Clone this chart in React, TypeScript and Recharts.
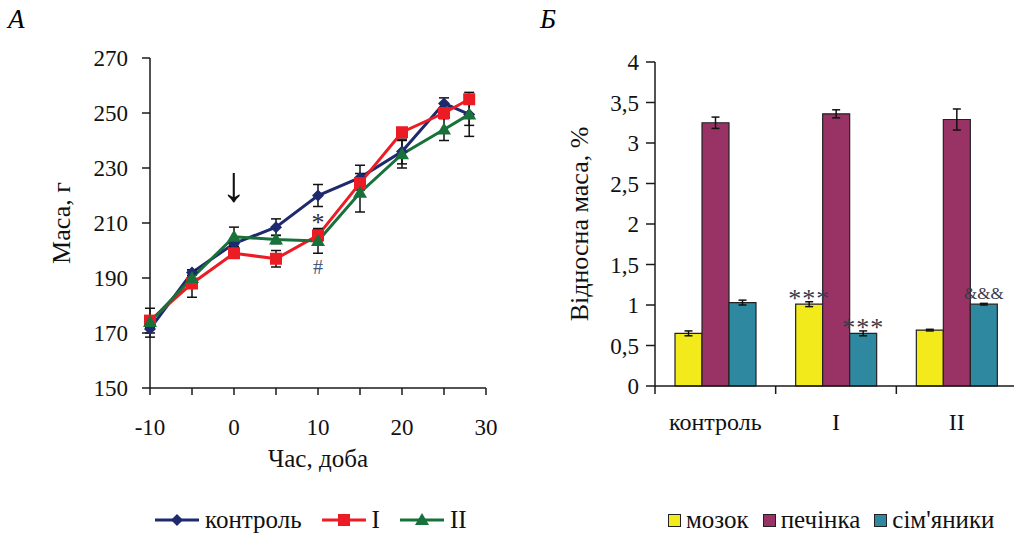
import {
  LineChart, Line, BarChart, Bar, XAxis, YAxis, ErrorBar, Legend, ReferenceDot, LabelList,
} from 'recharts';

const FONT = 'Liberation Serif, Tinos, Times New Roman, DejaVu Serif, serif';
const AXIS = '#1a1a1a';
const TEXT = '#111';

// panel A: body mass over time
const days = [-10, -5, 0, 5, 10, 15, 20, 25, 28];
const controlMass = [171.5, 192, 202.5, 208.5, 220, 226.5, 236, 253.5, 249.5];
const controlErr = [3, 1, 1.5, 3, 4, 4.5, 4.5, 2, 4];
const groupIMass = [174.5, 188, 199, 197, 205.5, 224.5, 243, 250, 255];
const groupIErr = [4.5, 5, 1.5, 3, 2, 2, 1.5, 2, 1];
const groupIIMass = [174, 190, 205, 204, 203.5, 221, 235, 244, 249.5];
const groupIIErr = [2, 2, 3.5, 1.5, 4.5, 7, 5, 4, 8];
const dayTicks = [-10, -5, 0, 5, 10, 15, 20, 25, 30];
const massTicks = [150, 170, 190, 210, 230, 250, 270];

// panel Б: relative organ mass
const groups = ['контроль', 'I', 'II'];
const brain = [0.65, 1.01, 0.69];
const brainErr = [0.03, 0.03, 0.01];
const liver = [3.25, 3.36, 3.29];
const liverErr = [0.07, 0.05, 0.13];
const testes = [1.03, 0.65, 1.01];
const testesErr = [0.03, 0.03, 0.01];
const brainMarks = ['', '***', ''];
const testesMarks = ['', '***', '&&&'];
const shareTicks = [0, 0.5, 1, 1.5, 2, 2.5, 3, 3.5, 4];

const massData = days.map((day, i) => ({
  day,
  control: controlMass[i], controlErr: controlErr[i],
  g1: groupIMass[i], g1Err: groupIErr[i],
  g2: groupIIMass[i], g2Err: groupIIErr[i],
}));

const organData = groups.map((group, i) => ({
  group,
  brain: brain[i], brainErr: brainErr[i], brainMark: brainMarks[i],
  liver: liver[i], liverErr: liverErr[i],
  testes: testes[i], testesErr: testesErr[i], testesMark: testesMarks[i],
}));

const COLORS = {
  control: '#1f2a6e',
  g1: '#ec1c24',
  g2: '#18703a',
  brain: '#f2ea1a',
  liver: '#993366',
  testes: '#2e88a0',
};

const marker = (kind: string, cx: number, cy: number, fill: string, key?: any) => {
  if (kind === 'diamond')
    return <polygon key={key} points={`${cx},${cy - 6} ${cx + 6},${cy} ${cx},${cy + 6} ${cx - 6},${cy}`} fill={fill} />;
  if (kind === 'square')
    return <rect key={key} x={cx - 6} y={cy - 6} width={12} height={12} fill={fill} />;
  return <polygon key={key} points={`${cx},${cy - 7} ${cx + 7},${cy + 5} ${cx - 7},${cy + 5}`} fill={fill} />;
};

const lineSeries = [
  { key: 'control', name: 'контроль', shape: 'diamond' },
  { key: 'g1', name: 'I', shape: 'square' },
  { key: 'g2', name: 'II', shape: 'triangle' },
];

const barSeries = [
  { key: 'brain', name: 'мозок' },
  { key: 'liver', name: 'печінка' },
  { key: 'testes', name: "сім'яники" },
];

const LineLegend = () => (
  <div style={{ display: 'flex', alignItems: 'center', fontSize: 25, color: TEXT, height: 26, fontFamily: FONT }}>
    {lineSeries.map((s) => (
      <div key={s.key} style={{ display: 'flex', alignItems: 'center', marginRight: 20 }}>
        <svg width={44} height={16} style={{ marginRight: 6 }}>
          <line x1={0} y1={8} x2={44} y2={8} stroke={(COLORS as any)[s.key]} strokeWidth={3} />
          {marker(s.shape, 22, 8, (COLORS as any)[s.key])}
        </svg>
        <span>{s.name}</span>
      </div>
    ))}
  </div>
);

const BarLegend = () => (
  <div style={{ display: 'flex', alignItems: 'center', fontSize: 25, color: TEXT, height: 26, fontFamily: FONT }}>
    {barSeries.map((s) => (
      <div key={s.key} style={{ display: 'flex', alignItems: 'center', marginRight: 14 }}>
        <span style={{
          display: 'inline-block', width: 11, height: 11, background: (COLORS as any)[s.key],
          border: '1.5px solid #222', marginRight: 5,
        }} />
        <span>{s.name}</span>
      </div>
    ))}
  </div>
);

const BandTick = (props: any) => {
  const { x, y, payload } = props;
  const half = payload && payload.offset ? payload.offset : 60.3;
  return (
    <g>
      <line x1={x - half} y1={y} x2={x - half} y2={y + 8} stroke={AXIS} strokeWidth={1.5} />
      <text x={x} y={y + 44} textAnchor="middle" fontSize={24} fill={TEXT} fontFamily={FONT}>{payload.value}</text>
    </g>
  );
};

const renderMark = (props: any) => {
  const { x, y, width, value } = props;
  if (!value) return null;
  const amp = String(value).includes('&');
  return (
    <text x={x + width / 2} y={y - (amp ? 5 : -3)} textAnchor="middle" fontSize={amp ? 17 : 26}
      fill="#3a3a48" fontFamily={FONT} letterSpacing={amp ? 0 : 1}>
      {value}
    </text>
  );
};

export default function App() {
  return (
    <div style={{
      position: 'absolute', left: 0, top: 0, width: 1014, height: 533, overflow: 'hidden',
      background: '#fff', fontFamily: FONT,
    }}>
      <div style={{ position: 'absolute', left: 8, top: 6, fontSize: 27, fontStyle: 'italic', lineHeight: 1 }}>А</div>
      <div style={{ position: 'absolute', left: 540, top: 6, fontSize: 27, fontStyle: 'italic', lineHeight: 1 }}>Б</div>

      <div style={{ position: 'absolute', left: 0, top: 0 }}>
        <LineChart width={520} height={533} data={massData} margin={{ top: 58, right: 34, bottom: 0, left: 40 }}
          style={{ fontFamily: FONT }}>
          <XAxis
            dataKey="day" type="number" domain={[-10, 30]} ticks={dayTicks} interval={0}
            tickFormatter={(v: number) => (v % 10 === 0 ? String(v) : '')}
            height={119} tickSize={7} tickMargin={24} stroke={AXIS} strokeWidth={1.5}
            tick={{ fill: TEXT, fontSize: 23, fontFamily: FONT }}
            label={{ value: 'Час, доба', position: 'insideBottom', offset: 40, fill: TEXT, fontSize: 25, fontFamily: FONT }}
          />
          <YAxis
            type="number" domain={[150, 270]} ticks={massTicks} interval={0}
            width={110} tickSize={8} tickMargin={14} stroke={AXIS} strokeWidth={1.5}
            tick={{ fill: TEXT, fontSize: 23, fontFamily: FONT }}
            label={{ value: 'Маса, г', angle: -90, position: 'insideLeft', offset: 21, fill: TEXT, fontSize: 26, fontFamily: FONT, style: { textAnchor: 'middle' } }}
          />
          <Legend verticalAlign="bottom" height={26} wrapperStyle={{ left: 155, width: 360 }} content={() => <LineLegend />} />
          {lineSeries.map((s) => (
            <Line
              key={s.key} dataKey={s.key} name={s.name} type="linear"
              stroke={(COLORS as any)[s.key]} strokeWidth={3} isAnimationActive={false}
              dot={(p: any) => marker(s.shape, p.cx, p.cy, (COLORS as any)[s.key], p.index)}
              activeDot={false}
            >
              <ErrorBar dataKey={`${s.key}Err`} direction="y" width={5} stroke="#111" strokeWidth={1.5} />
            </Line>
          ))}
          <ReferenceDot x={0} y={224.5} r={0} label={{ value: '↓', position: 'center', fontSize: 50, fill: '#111', fontFamily: FONT }} />
          <ReferenceDot x={10} y={210.5} r={0} label={{ value: '*', position: 'center', fontSize: 26, fill: '#2a2a3a', fontFamily: FONT }} />
          <ReferenceDot x={10} y={194} r={0} label={{ value: '#', position: 'center', fontSize: 20, fill: '#4a5578', fontFamily: FONT }} />
        </LineChart>
      </div>

      <div style={{ position: 'absolute', left: 520, top: 0 }}>
        <BarChart width={500} height={533} data={organData} margin={{ top: 62, right: 3, bottom: 0, left: 50 }} barSize={27} barGap={0}
          style={{ fontFamily: FONT }}>
          <XAxis dataKey="group" height={121} tickSize={0} tickMargin={0} tickLine={false} interval={0}
            stroke={AXIS} strokeWidth={1.5} tick={<BandTick />} />
          <YAxis
            type="number" domain={[0, 4]} ticks={shareTicks} interval={0}
            tickFormatter={(v: number) => String(v).replace('.', ',')}
            width={85} tickSize={9} tickMargin={7} stroke={AXIS} strokeWidth={1.5}
            tick={{ fill: TEXT, fontSize: 23, fontFamily: FONT }}
            label={{ value: 'Відносна маса, %', angle: -90, position: 'insideLeft', offset: 9, fill: TEXT, fontSize: 26, fontFamily: FONT, style: { textAnchor: 'middle' } }}
          />
          <Legend verticalAlign="bottom" height={26} wrapperStyle={{ left: 148, width: 360 }} content={() => <BarLegend />} />
          <Bar dataKey="brain" name="мозок" fill={COLORS.brain} stroke="#222" strokeWidth={1.2} isAnimationActive={false}>
            <ErrorBar dataKey="brainErr" direction="y" width={4} stroke="#111" strokeWidth={1.5} />
            <LabelList dataKey="brainMark" content={renderMark} />
          </Bar>
          <Bar dataKey="liver" name="печінка" fill={COLORS.liver} stroke="#222" strokeWidth={1.2} isAnimationActive={false}>
            <ErrorBar dataKey="liverErr" direction="y" width={4} stroke="#111" strokeWidth={1.5} />
          </Bar>
          <Bar dataKey="testes" name="сім'яники" fill={COLORS.testes} stroke="#222" strokeWidth={1.2} isAnimationActive={false}>
            <ErrorBar dataKey="testesErr" direction="y" width={4} stroke="#111" strokeWidth={1.5} />
            <LabelList dataKey="testesMark" content={renderMark} />
          </Bar>
        </BarChart>
      </div>
    </div>
  );
}
